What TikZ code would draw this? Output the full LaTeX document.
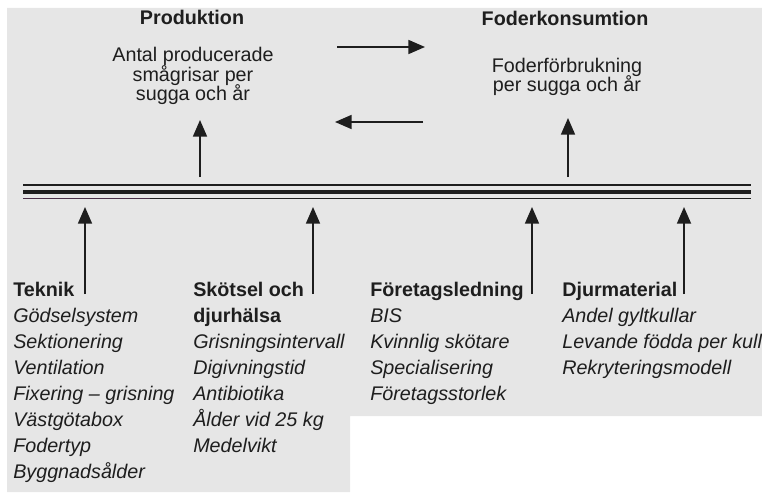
\documentclass[tikz,border=0pt]{standalone}
\usepackage{fontspec}
\setmainfont{Liberation Sans}
\usetikzlibrary{arrows.meta}
\definecolor{bg}{HTML}{E6E6E6}
\definecolor{ink}{HTML}{1E1E1E}
\definecolor{inkp}{HTML}{4A3048}
\begin{document}
\begin{tikzpicture}[x=0.75pt,y=-0.75pt,
  txt/.style={inner sep=0pt, text=ink, font=\fontsize{14.8pt}{17pt}\selectfont},
  hd/.style={inner sep=0pt, text=ink, font=\fontsize{14.8pt}{17pt}\selectfont\bfseries},
  itm/.style={inner sep=0pt, text=ink, font=\fontsize{14.8pt}{17pt}\selectfont\itshape, anchor=base west},
  arr/.style={draw=ink, line width=1.3pt, -{Triangle[length=12.5pt,width=10.5pt]}},
  rail/.style={draw=ink}]
\useasboundingbox (0,0) rectangle (762,492);
\fill[bg] (7,8) -- (762,8) -- (762,416) -- (350,416) -- (350,492) -- (7,492) -- cycle;

% rails
\draw[rail, line width=1pt] (23,185) -- (751,185);
\draw[rail, line width=2.7pt] (23,192) -- (751,192);
\draw[rail, line width=1pt] (150,198.5) -- (751,198.5);
\draw[draw=inkp, line width=1pt] (23,198.5) -- (150,198.5);

% top texts
\node[hd, anchor=base] (prod) at (192,25) {Produktion};
\node[txt, anchor=base] (p1) at (193,61) {Antal producerade};
\node[txt, anchor=base] (p2) at (193,81) {smågrisar per};
\node[txt, anchor=base] (p3) at (193,100) {sugga och år};
\node[hd, anchor=base] (fod) at (565,26) {Foderkonsumtion};
\node[txt, anchor=base] (f1) at (567,72) {Foderförbrukning};
\node[txt, anchor=base] (f2) at (567,91) {per sugga och år};

% coordinates
\coordinate (ra) at (337,47);  \coordinate (rb) at (425,47);
\coordinate (la) at (423,122); \coordinate (lb) at (335,122);
\coordinate (pa) at (200,177); \coordinate (pb) at (200,120);
\coordinate (fa) at (568,177); \coordinate (fb) at (568,118);
\coordinate (ta) at (85,294);  \coordinate (tb) at (85,207);
\coordinate (sa) at (313,294); \coordinate (sb) at (313,207);
\coordinate (ea) at (532,294); \coordinate (eb) at (532,207);
\coordinate (da) at (684,294); \coordinate (db) at (684,207);

\draw[arr] (ra) -- (rb);
\draw[arr] (la) -- (lb);
\draw[arr] (pa) -- (pb);
\draw[arr] (fa) -- (fb);
\draw[arr] (ta) -- (tb);
\draw[arr] (sa) -- (sb);
\draw[arr] (ea) -- (eb);
\draw[arr] (da) -- (db);

% bottom columns
\node[hd, anchor=base west] (tek) at (13,296) {Teknik};
\foreach \t [count=\i] in {Gödselsystem,Sektionering,Ventilation,Fixering – grisning,Västgötabox,Fodertyp,Byggnadsålder}
  \node[itm] (tek\i) at (13,{296+26*\i}) {\t};

\node[hd, anchor=base west] (sko) at (193,296) {Skötsel och};
\node[hd, anchor=base west] (sko2) at (193,322) {djurhälsa};
\foreach \t [count=\i] in {Grisningsintervall,Digivningstid,Antibiotika,Ålder vid 25 kg,Medelvikt}
  \node[itm] (sko\i) at (193,{322+26*\i}) {\t};

\node[hd, anchor=base west] (for) at (370,296) {Företagsledning};
\foreach \t [count=\i] in {BIS,Kvinnlig skötare,Specialisering,Företagsstorlek}
  \node[itm] (for\i) at (370,{296+26*\i}) {\t};

\node[hd, anchor=base west] (dju) at (562,296) {Djurmaterial};
\foreach \t [count=\i] in {Andel gyltkullar,Levande födda per kull,Rekryteringsmodell}
  \node[itm] (dju\i) at (562,{296+26*\i}) {\t};
\end{tikzpicture}
\end{document}
